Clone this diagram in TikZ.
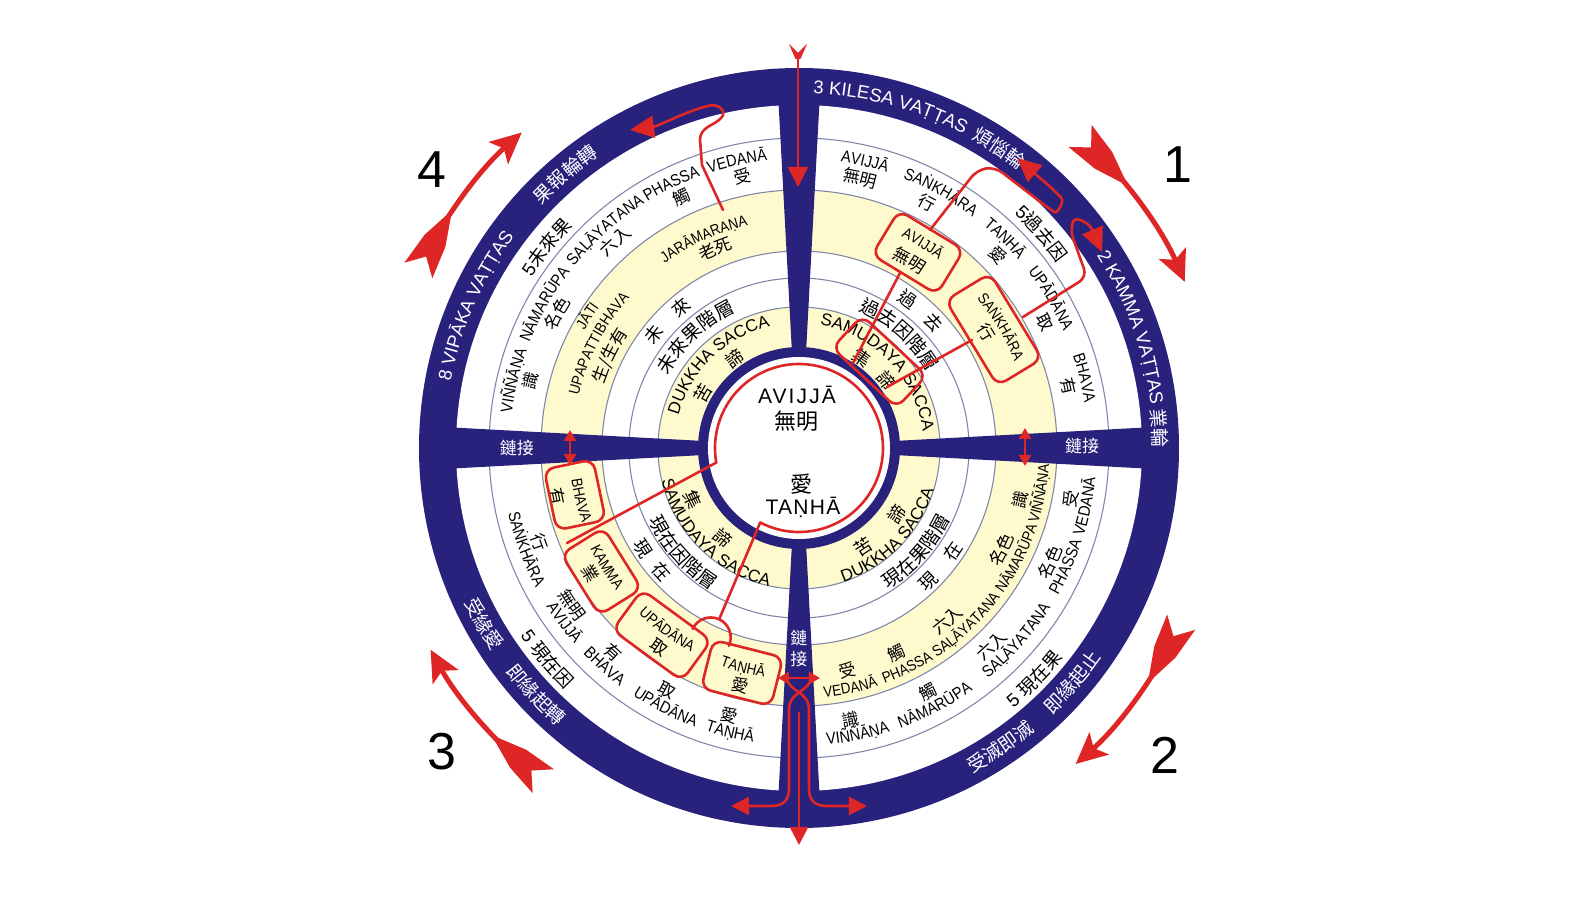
\documentclass[tikz,border=0pt]{standalone}
\usepackage{fontspec}
\setmainfont{Liberation Sans}
\setsansfont{Liberation Sans}
\newfontfamily\cjk{Noto Sans CJK TC}
\newfontfamily\pali[FakeStretch=0.88]{Liberation Sans}
\usetikzlibrary{decorations.text,arrows.meta}
\definecolor{navy}{RGB}{40,34,125}
\definecolor{redc}{RGB}{222,38,38}
\definecolor{yel}{RGB}{255,250,205}
\definecolor{ringline}{RGB}{128,136,170}
\newcommand\fRL{\fontsize{18.5}{20}\selectfont\color{white}}
\newcommand\fRC{\cjk\fontsize{19}{21}\selectfont\color{white}}
\newcommand\fPL{\pali\fontsize{16.5}{18}\selectfont}
\newcommand\fYL{\pali\fontsize{15.3}{17}\selectfont}
\newcommand\fPC{\cjk\fontsize{17}{19}\selectfont}
\newcommand\fIL{\fontsize{17}{19}\selectfont}
\newcommand\fIC{\cjk\fontsize{18}{20}\selectfont}
\newcommand\fJC{\cjk\fontsize{19}{21}\selectfont}
\newcommand\fOC{\cjk\fontsize{18.5}{21}\selectfont}
\newcommand\fOL{\fontsize{18.5}{21}\selectfont}
\newcommand\atU[3]{\path[decorate,decoration={text along path,text align=center,text={#3}}] ({#2+80}:#1pt) arc[start angle={#2+80},end angle={#2-80},radius=#1pt];}
\newcommand\atL[3]{\path[decorate,decoration={text along path,text align=center,text={#3}}] ({#2-80}:#1pt) arc[start angle={#2-80},end angle={#2+80},radius=#1pt];}
\newcommand\PaliU[2]{\atU{289}{#1}{|\fPL|#2}}
\newcommand\HanU[2]{\atU{270.5}{#1}{|\fPC|#2}}
\newcommand\PaliL[2]{\atL{298}{#1}{|\fPL|#2}}
\newcommand\HanL[2]{\atL{282.5}{#1}{|\fPC|#2}}
\newcommand\bigarr[2]{%
  \draw[redc, line width=5pt, -{Stealth[length=31pt,width=29pt,inset=7pt]}] ({#1-3}:420pt) arc[start angle={#1-3}, end angle=#2, radius=420pt];
  \fill[redc, shift={(#1:420pt)}, rotate={#1-90-4.2}] (0,16) -- (34,12) -- (62,2.5) -- (62,-2.5) -- (34,-12) -- (0,-16) -- (16,0) -- cycle;}
\tikzset{
  rline/.style={draw=redc, line width=2.6pt, line cap=round, line join=round},
  rbox/.style={draw=redc, line width=2.6pt, rounded corners=10pt, inner sep=0pt},
  tipA/.style={-{Triangle[length=24pt,width=22pt]}},
  tipB/.style={-{Triangle[length=18pt,width=18pt]}},
  dbl/.style={{Triangle[length=11pt,width=12pt]}-{Triangle[length=11pt,width=12pt]}},
  lk/.style={font=\cjk\fontsize{17}{21}\selectfont, text=white, inner sep=0pt},
  num/.style={font=\fontsize{52}{56}\selectfont, inner sep=0pt}
}
\begin{document}
\begin{tikzpicture}[x=1pt,y=1pt]
\useasboundingbox (-799,-449) rectangle (792,448);
\fill[white] (-799,-449) rectangle (792,448);
% wheel
\fill[navy] (0,0) circle[radius=380pt];
\fill[white] (0,0) circle[radius=343pt];
\fill[yel, even odd rule] (0,0) circle[radius=258pt] (0,0) circle[radius=197pt];
\fill[yel] (0,0) circle[radius=141pt];
\foreach \rr in {310,258,197,170,141} \draw[ringline, line width=1.1pt] (0,0) circle[radius=\rr pt];
\foreach \a in {0,90,180,270} \fill[navy, rotate=\a] (95,-7) -- (346,-20.5) -- (346,20.5) -- (95,7) -- cycle;
\fill[navy] (0,0) circle[radius=101pt];
\fill[white] (0,0) circle[radius=91pt];
% ring texts
\atU{354.5}{75}{|\fRL|3 KILESA VAṬṬAS}
\atU{353.8}{56.3}{|\fRC|煩惱輪}
\atU{354.5}{20}{|\fRL|2 KAMMA VAṬṬAS}
\atU{353.8}{3.1}{|\fRC|業輪}
\atU{354.5}{156.3}{|\fRL|8 VIPĀKA VAṬṬAS}
\atU{353.8}{130.5}{|\fRC|果報輪轉}
\atL{368.2}{209.2}{|\fRC|受緣愛}
\atL{368.2}{223.2}{|\fRC|即緣起轉}
\atL{368.2}{304}{|\fRC|受滅即滅}
\atL{368.2}{319.4}{|\fRC|即緣起止}
% outer band
\atU{317}{141.5}{|\fOL|5|\fOC|未來果}
\atU{318}{41.5}{|\fOL|5|\fOC|過去因}
\atL{336}{220}{|\fOL|5 |\fOC|現在因}
\atL{337}{315.5}{|\fOL|5 |\fOC|現在果}
% pali band upper-left
\PaliU{166.7}{VIÑÑĀṆA}\PaliU{150.5}{NĀMARŪPA}\PaliU{131.7}{SAḶĀYATANA}\PaliU{115.8}{PHASSA}\PaliU{102.2}{VEDANĀ}
\HanU{166}{識}\HanU{151}{名色}\HanU{131.6}{六入}\HanU{115}{觸}\HanU{101.7}{受}
% pali band upper-right
\PaliU{77}{AVIJJĀ}\PaliU{61}{SAṄKHĀRA}\PaliU{45.5}{TAṆHĀ}\PaliU{30.7}{UPĀDĀNA}\PaliU{13.8}{BHAVA}
\HanU{77.2}{無明}\HanU{62.4}{行}\HanU{44.1}{愛}\HanU{27.1}{取}\HanU{12.8}{有}
% pali band lower-left
\PaliL{200.3}{SAṄKHĀRA}\PaliL{216.6}{AVIJJĀ}\PaliL{228.3}{BHAVA}\PaliL{242.8}{UPĀDĀNA}\PaliL{256.4}{TAṆHĀ}
\HanL{200}{行}\HanL{214.6}{無明}\HanL{227.8}{有}\HanL{241.4}{取}\HanL{255.4}{愛}
% pali band lower-right
\PaliL{281.6}{VIÑÑĀṆA}\PaliL{297.8}{NĀMARŪPA}\PaliL{318.5}{SAḶĀYATANA}\PaliL{336}{PHASSA}\PaliL{348.5}{VEDANĀ}
\HanL{280.7}{識}\HanL{297.9}{觸}\HanL{314.3}{六入}\HanL{335.6}{名色}\HanL{349.3}{受}
% yellow band upper-left
\atU{244.4}{148}{|\fYL|JĀTI}
\atU{226.4}{152.5}{|\fYL|UPAPATTIBHAVA}
\atU{205.5}{154}{|\fPC|生/生有}
\atU{228.4}{114.4}{|\fYL|JARĀMARAṆA}
\atU{209.5}{112.8}{|\fPC|老死}
% yellow band upper-right (boxes)
\atU{234.4}{58.8}{|\fYL|AVIJJĀ}
\atU{211.5}{59.4}{|\fPC|無明}
\atU{232.4}{31}{|\fYL|SAṄKHĀRA}
\atU{213.5}{31.7}{|\fPC|行}
% yellow band lower-left (boxes)
\atL{229.6}{193.5}{|\fYL|BHAVA}
\atL{252.5}{191.4}{|\fPC|有}
\atL{231.6}{211.8}{|\fYL|KAMMA}
\atL{249.5}{211}{|\fPC|業}
\atL{230.6}{234}{|\fYL|UPĀDĀNA}
\atL{249.5}{235}{|\fPC|取}
\atL{231.6}{255.7}{|\fYL|TAṆHĀ}
\atL{250.5}{256}{|\fPC|愛}
% yellow band lower-right
\atL{250.6}{282.1}{|\fYL|VEDANĀ}\atL{250.6}{296.2}{|\fYL|PHASSA}\atL{250.6}{313.4}{|\fYL|SAḶĀYATANA}\atL{250.6}{333.2}{|\fYL|NĀMARŪPA}\atL{250.6}{349.3}{|\fYL|VIÑÑĀṆA}
\atL{233.5}{282.2}{|\fPC|受}\atL{233.5}{295.3}{|\fPC|觸}\atL{233.5}{310.7}{|\fPC|六入}\atL{233.5}{333.4}{|\fPC|名色}\atL{233.5}{346.9}{|\fPC|識}
% band 170-197
\atU{177.2}{142}{|\fIC|未}\atU{177.2}{130}{|\fIC|來}\atU{177.2}{53.7}{|\fIC|過}\atU{177.2}{43}{|\fIC|去}
\atL{191.8}{212.7}{|\fIC|現}\atL{191.8}{222}{|\fIC|在}\atL{191.8}{314.1}{|\fIC|現}\atL{191.8}{326}{|\fIC|在}
% band 141-170
\atU{149.8}{133}{|\fJC|未來果階層}
\atU{149.8}{48.5}{|\fJC|過去因階層}
\atL{167.2}{222}{|\fJC|現在因階層}
\atL{167.2}{318.6}{|\fJC|現在果階層}
% inner yellow
\atU{124.9}{134}{|\fIL|DUKKHA SACCA}
\atU{124.9}{44}{|\fIL|SAMUDAYA SACCA}
\atL{141.1}{225.5}{|\fIL|SAMUDAYA SACCA}
\atL{141.1}{315.5}{|\fIL|DUKKHA SACCA}
\atU{103.2}{150.4}{|\fIC|苦}\atU{103.2}{126}{|\fIC|諦}
\atU{103.2}{55.3}{|\fIC|集}\atU{103.2}{37.7}{|\fIC|諦}
\atL{124.8}{206}{|\fIC|集}\atL{124.8}{229.5}{|\fIC|諦}
\atL{124.8}{302.9}{|\fIC|苦}\atL{124.8}{325.7}{|\fIC|諦}
% centre
\node[font=\fontsize{21}{24}\selectfont, inner sep=0pt] (cav) at (-2,53) {\addfontfeature{LetterSpace=10}AVIJJĀ};
\node[font=\cjk\fontsize{22}{24}\selectfont, inner sep=0pt] (cwm) at (-2,27) {無明};
\node[font=\cjk\fontsize{22}{24}\selectfont, inner sep=0pt] (cai) at (3,-36) {愛};
\node[font=\fontsize{21}{24}\selectfont, inner sep=0pt] (ctn) at (4,-59) {\addfontfeature{LetterSpace=6}TAṆHĀ};
% link labels
\node[lk] (lkL) at (-282,0) {鏈接};
\node[lk] (lkR) at (283,2) {鏈接};
\node[lk, align=center] (lkB) at (0,-200) {鏈\\接};
% numbers
\node[num] (n1) at (379,283) {1};
\node[num] (n2) at (366,-307) {2};
\node[num] (n3) at (-357,-304) {3};
\node[num] (n4) at (-367,278) {4};
% big curved arrows
\bigarr{48}{23.3}
\bigarr{335.5}{311.2}
\bigarr{232.5}{208.7}
\bigarr{155}{131.3}
% boxes
\node[rbox, minimum width=76pt, minimum height=52pt, rotate=-31.3] (bAV) at (58.7:229pt) {};
\node[rbox, minimum width=100pt, minimum height=52pt, rotate=-58.7] (bSK) at (31.3:228pt) {};
\node[rbox, minimum width=88pt, minimum height=44pt, rotate=-43] (bSM) at (47:118pt) {};
\node[rbox, minimum width=62pt, minimum height=50pt, rotate=101.8] (bBH) at (191.8:229pt) {};
\node[rbox, minimum width=72pt, minimum height=50pt, rotate=122] (bKM) at (212:233pt) {};
\node[rbox, minimum width=86pt, minimum height=50pt, rotate=143.8] (bUP) at (233.8:232pt) {};
\node[rbox, minimum width=72pt, minimum height=50pt, rotate=165.8] (bTN) at (255.8:232pt) {};
% red circle
\coordinate (cL) at (190:84pt);
\coordinate (cB) at (242.5:84pt);
\draw[rline] (cB) arc[start angle=242.5, end angle=550, radius=84pt];
% lower-left connectors
\coordinate (kmC) at (-232,-95);
\coordinate (hmT) at (245:189pt);
\coordinate (hmS) at (-106.4,-181.0);
\draw[rline] (cL) -- (kmC);
\draw[rline] (cB) -- (hmT);
\draw[rline] (hmS) arc[start angle=155, end angle=-25, radius=20pt];
% upper-right connectors
\coordinate (avI) at (101,175);
\coordinate (smA) at (54,85);
\coordinate (skI) at (173,108);
\coordinate (smB) at (88,61);
\draw[rline] (avI) -- (smA);
\draw[rline] (skI) -- (smB);
\coordinate (avO) at (131,218);
\coordinate (urA2) at (178,278);
\coordinate (urA3) at (196,281);
\coordinate (urA4) at (248,241);
\coordinate (urAT) at (218,290);
\draw[rline, tipA, rounded corners=9pt] (avO) -- (urA2) -- (urA3) -- (urA4) .. controls (258,234) and (266,246) .. (256,257) -- (urAT);
\coordinate (skO) at (224,131);
\coordinate (urB2) at (288,171);
\coordinate (urB3) at (271,218);
\coordinate (urBT) at (303,196);
\draw[rline, tipA, rounded corners=9pt] (skO) -- (urB2) -- (urB3) .. controls (276,232) and (290,226) .. (urBT);
% upper-left hook
\coordinate (ulA) at (-76,238);
\coordinate (ulB) at (-97,283);
\coordinate (ulC) at (-99,308);
\coordinate (ulD) at (-77,331);
\coordinate (ulE) at (-91,342);
\coordinate (ulT) at (-169,318);
\draw[rline, tipA] (ulA) -- (ulB) -- (ulC) .. controls (-99,322) and (-84,322) .. (ulD) .. controls (-72,338) and (-82,345) .. (ulE) .. controls (-110,338) and (-140,322) .. (ulT);
% top arrow
\coordinate (tT) at (-1,392);
\coordinate (tB) at (-1,261);
\draw[rline, -{Triangle[length=20pt,width=20pt]}] (tT) -- (tB);
\fill[redc] (-10,404) -- (-1,395) -- (8,404) -- (1.5,389) -- (-3.5,389) -- cycle;
% side link arrows
\coordinate (lA1) at (-229,18); \coordinate (lA2) at (-229,-17);
\coordinate (rA1) at (226,20); \coordinate (rA2) at (226,-18);
\draw[rline, dbl] (lA1) -- (lA2);
\draw[rline, dbl] (rA1) -- (rA2);
% bottom spoke arrows
\coordinate (bH1) at (-21,-230); \coordinate (bH2) at (21,-230);
\draw[rline, dbl] (bH1) -- (bH2);
\coordinate (bLt) at (-68,-358); \coordinate (bRt) at (68,-358);
\coordinate (bMs) at (0,-265); \coordinate (bMt) at (0,-397);
\draw[rline, tipB] (11,-234) .. controls (5,-245) and (-10,-245) .. (-10,-262) -- (-10,-340) .. controls (-10,-352) and (-15,-358) .. (-28,-358) -- (bLt);
\draw[rline, tipB] (-11,-234) .. controls (-5,-245) and (10,-245) .. (10,-262) -- (10,-340) .. controls (10,-352) and (15,-358) .. (28,-358) -- (bRt);
\draw[rline, tipB] (bMs) -- (bMt);
\end{tikzpicture}
\end{document}
